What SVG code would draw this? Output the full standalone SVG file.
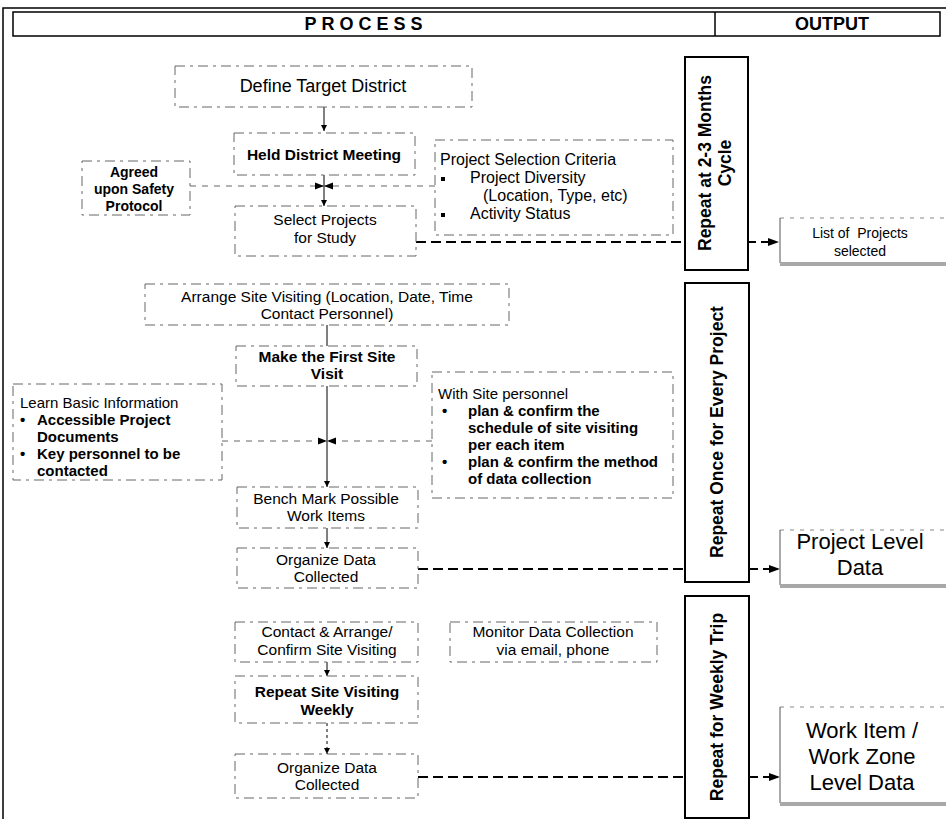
<svg xmlns="http://www.w3.org/2000/svg" width="946" height="819" viewBox="0 0 946 819">
<defs>
<marker id="ah" viewBox="0 0 10 10" refX="10" refY="5" markerWidth="6" markerHeight="6" orient="auto" markerUnits="userSpaceOnUse"><path d="M0,0 L10,5 L0,10 Z" fill="#000"/></marker>
<marker id="ahb" viewBox="0 0 10 10" refX="10" refY="5" markerWidth="9" markerHeight="9" orient="auto" markerUnits="userSpaceOnUse"><path d="M0,1 L10,5 L0,9 Z" fill="#000"/></marker>
</defs>
<style>
text{font-family:"Liberation Sans",Arial,sans-serif;fill:#000}
.t{font-size:15.5px}
.tb{font-size:15.5px;font-weight:bold}
.tl{font-size:15px}
.bl{font-size:15px;font-weight:bold}
.c{text-anchor:middle}
.pb{fill:none;stroke:#666;stroke-width:1;stroke-dasharray:10 5 3 5}
.rep{fill:#fff;stroke:#000;stroke-width:2}
.rt{font-size:17.5px;font-weight:bold;text-anchor:middle}
.ot{font-size:22px;text-anchor:middle}
.os{font-size:14px;text-anchor:middle}
.conn{fill:none;stroke:#000;stroke-width:2;stroke-dasharray:10 5}
.side{fill:none;stroke:#666;stroke-width:1;stroke-dasharray:6 6}
.ar{fill:none;stroke:#000;stroke-width:1}
.ol{fill:none;stroke:#555;stroke-width:1}
.otop{fill:none;stroke:#888;stroke-width:1;stroke-dasharray:4 6}
.sh{fill:#a8a8a8}
</style>
<rect width="946" height="819" fill="#fff"/>
<g id="frame">
<path d="M3,819 V8 H946" fill="none" stroke="#000" stroke-width="1.5"/>
<rect x="13" y="12" width="927" height="24" fill="none" stroke="#000" stroke-width="1.5"/>
<line x1="715" y1="12" x2="715" y2="36" stroke="#000" stroke-width="1.5"/>
<text x="366" y="30" style="font-size:18px;font-weight:bold;letter-spacing:5px" class="c">PROCESS</text>
<text x="832" y="30" style="font-size:18px;font-weight:bold" class="c">OUTPUT</text>
</g>
<g id="connectors">
<line class="ar" x1="324" y1="107" x2="324" y2="131" marker-end="url(#ah)"/>
<line class="ar" x1="324" y1="175" x2="324" y2="206" marker-end="url(#ah)"/>
<line class="side" x1="190" y1="186" x2="324" y2="186" marker-end="url(#ahb)"/>
<line class="side" x1="435" y1="186" x2="324" y2="186" marker-end="url(#ahb)"/>
<line class="ar" x1="327" y1="325" x2="327" y2="346"/>
<line class="ar" x1="327" y1="386" x2="327" y2="487" marker-end="url(#ah)"/>
<line class="side" x1="222" y1="441" x2="327" y2="441" marker-end="url(#ahb)"/>
<line class="side" x1="432" y1="441" x2="327" y2="441" marker-end="url(#ahb)"/>
<line class="ar" x1="327" y1="528" x2="327" y2="548" marker-end="url(#ah)"/>
<line class="ar" x1="327" y1="662" x2="327" y2="676" marker-end="url(#ah)"/>
<line class="ar" x1="327" y1="723" x2="327" y2="754" marker-end="url(#ah)" stroke-dasharray="3 3"/>
<line class="conn" x1="416" y1="242" x2="776" y2="242"/>
<line class="conn" x1="418" y1="569" x2="777" y2="569"/>
<line class="conn" x1="418" y1="777" x2="777" y2="777"/>
<path d="M768,238 L779,242 L768,246 Z" fill="#000"/>
<path d="M769,565 L780,569 L769,573 Z" fill="#000"/>
<path d="M769,773 L780,777 L769,781 Z" fill="#000"/>
</g>
<g id="define">
<rect class="pb" x="175" y="66" width="297" height="41"/>
<text x="323" y="92" class="c" style="font-size:18px">Define Target District</text>
</g>
<g id="held">
<rect class="pb" x="234" y="133" width="181" height="42"/>
<text x="324" y="160" class="tb c">Held District Meeting</text>
</g>
<g id="agreed">
<rect class="pb" x="82" y="161" width="108" height="54"/>
<text x="134" y="177" class="c" style="font-size:14px;font-weight:bold">Agreed</text>
<text x="134" y="194" class="c" style="font-size:14px;font-weight:bold">upon Safety</text>
<text x="134" y="211" class="c" style="font-size:14px;font-weight:bold">Protocol</text>
</g>
<g id="select">
<rect class="pb" x="235" y="206" width="181" height="50"/>
<text x="325" y="225" class="t c">Select Projects</text>
<text x="325" y="243" class="t c">for Study</text>
</g>
<g id="criteria">
<rect class="pb" x="435" y="140" width="238" height="95"/>
<text x="440" y="165" style="font-size:16px">Project Selection Criteria</text>
<rect x="441" y="177" width="4" height="4" fill="#000"/>
<text x="470" y="183" style="font-size:16px">Project Diversity</text>
<text x="483" y="201" style="font-size:16px">(Location, Type, etc)</text>
<rect x="441" y="213" width="4" height="4" fill="#000"/>
<text x="470" y="219" style="font-size:16px">Activity Status</text>
</g>
<g id="repeat1">
<rect class="rep" x="685" y="57" width="63" height="213"/>
<text transform="translate(711,163) rotate(-90)" class="rt">Repeat at 2-3 Months</text>
<text transform="translate(731,163) rotate(-90)" class="rt">Cycle</text>
</g>
<g id="list">
<line class="otop" x1="780" y1="218" x2="946" y2="218"/>
<line class="ol" x1="780" y1="218" x2="780" y2="263"/>
<rect class="sh" x="780" y="262" width="166" height="4"/>
<text x="860" y="238" class="os" style="white-space:pre">List of  Projects</text>
<text x="860" y="256" class="os">selected</text>
</g>
<g id="arrange">
<rect class="pb" x="145" y="284" width="364" height="41"/>
<text x="327" y="302" class="t c">Arrange Site Visiting (Location, Date, Time</text>
<text x="327" y="319" class="t c">Contact Personnel)</text>
</g>
<g id="firstvisit">
<rect class="pb" x="236" y="346" width="181" height="40"/>
<text x="327" y="362" class="tb c">Make the First Site</text>
<text x="327" y="379" class="tb c">Visit</text>
</g>
<g id="learn">
<rect class="pb" x="13" y="384" width="209" height="96"/>
<text x="20" y="408" class="tl">Learn Basic Information</text>
<text x="20" y="425" class="bl">•</text>
<text x="37" y="425" class="bl">Accessible Project</text>
<text x="37" y="442" class="bl">Documents</text>
<text x="20" y="459" class="bl">•</text>
<text x="37" y="459" class="bl">Key personnel to be</text>
<text x="37" y="476" class="bl">contacted</text>
</g>
<g id="withsite">
<rect class="pb" x="432" y="372" width="241" height="126"/>
<text x="438" y="399" class="tl">With Site personnel</text>
<text x="442" y="416" class="bl">•</text>
<text x="468" y="416" class="bl">plan &amp; confirm the</text>
<text x="468" y="433" class="bl">schedule of site visiting</text>
<text x="468" y="450" class="bl">per each item</text>
<text x="442" y="467" class="bl">•</text>
<text x="468" y="467" class="bl">plan &amp; confirm the method</text>
<text x="468" y="484" class="bl">of data collection</text>
</g>
<g id="bench">
<rect class="pb" x="237" y="487" width="181" height="41"/>
<text x="326" y="504" class="t c">Bench Mark Possible</text>
<text x="326" y="521" class="t c">Work Items</text>
</g>
<g id="organize1">
<rect class="pb" x="237" y="548" width="181" height="40"/>
<text x="326" y="565" class="t c">Organize Data</text>
<text x="326" y="582" class="t c">Collected</text>
</g>
<g id="repeat2">
<rect class="rep" x="685" y="283" width="64" height="299"/>
<text transform="translate(723,432) rotate(-90)" class="rt">Repeat Once for Every Project</text>
</g>
<g id="projectlevel">
<line class="otop" x1="780" y1="530" x2="946" y2="530"/>
<line class="ol" x1="780" y1="530" x2="780" y2="585"/>
<rect class="sh" x="780" y="584" width="166" height="4"/>
<text x="860" y="549" class="ot">Project Level</text>
<text x="860" y="575" class="ot">Data</text>
</g>
<g id="contact">
<rect class="pb" x="235" y="622" width="183" height="40"/>
<text x="327" y="637" class="t c">Contact &amp; Arrange/</text>
<text x="327" y="655" class="t c">Confirm Site Visiting</text>
</g>
<g id="repeatsite">
<rect class="pb" x="235" y="676" width="183" height="47"/>
<text x="327" y="697" class="tb c">Repeat Site Visiting</text>
<text x="327" y="715" class="tb c">Weekly</text>
</g>
<g id="organize2">
<rect class="pb" x="235" y="754" width="183" height="44"/>
<text x="327" y="773" class="t c">Organize Data</text>
<text x="327" y="790" class="t c">Collected</text>
</g>
<g id="monitor">
<rect class="pb" x="450" y="622" width="207" height="40"/>
<text x="553" y="637" class="t c">Monitor Data Collection</text>
<text x="553" y="655" class="t c">via email, phone</text>
</g>
<g id="repeat3">
<rect class="rep" x="685" y="596" width="64" height="222"/>
<text transform="translate(723,707) rotate(-90)" class="rt">Repeat for Weekly Trip</text>
</g>
<g id="workitem">
<line class="otop" x1="780" y1="707" x2="946" y2="707"/>
<line class="ol" x1="780" y1="707" x2="780" y2="803"/>
<rect class="sh" x="780" y="802" width="166" height="4"/>
<text x="862" y="738" class="ot">Work Item /</text>
<text x="862" y="764" class="ot">Work Zone</text>
<text x="862" y="790" class="ot">Level Data</text>
</g>
</svg>
